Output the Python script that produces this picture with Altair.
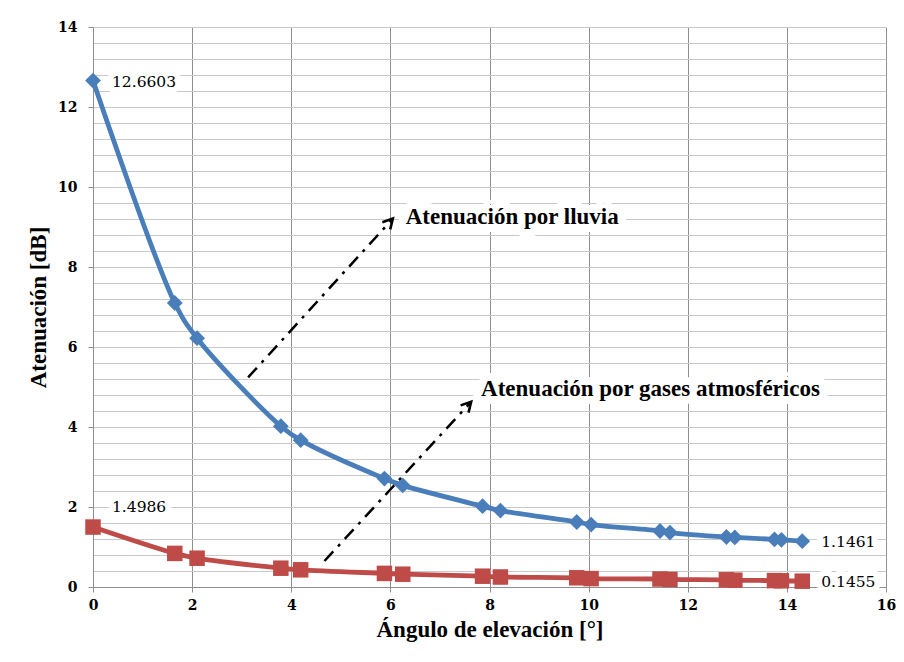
import altair as alt
import pandas as pd

# ---------------- data ----------------
angles = [0, 1.65, 2.10, 3.79, 4.19, 5.88, 6.25, 7.86, 8.22, 9.76, 10.05,
          11.44, 11.64, 12.78, 12.95, 13.75, 13.89, 14.31]
rain = [12.6603, 7.10, 6.22, 4.02, 3.67, 2.71, 2.54, 2.02, 1.91, 1.625, 1.56,
        1.40, 1.36, 1.25, 1.24, 1.19, 1.18, 1.1461]
gas = [1.4986, 0.84, 0.72, 0.47, 0.43, 0.34, 0.32, 0.27, 0.25, 0.23, 0.21,
       0.20, 0.19, 0.18, 0.17, 0.16, 0.155, 0.1455]

series_names = ["Atenuación por lluvia", "Atenuación por gases atmosféricos"]
series_colors = ["#4a7ebb", "#be4b48"]

end_labels = ["12.6603", "1.1461", "0.1455"]
end_x = [0, 14.31, 14.31]
end_y = [12.6603, 1.1461, 0.1455]
top_labels = ["1.4986"]
top_x = [0]
top_y = [1.4986]

arrow_names = ["lluvia", "lluvia", "gases", "gases"]
arrow_x = [3.13, 6.05, 4.67, 7.63]
arrow_y = [5.24, 9.21, 0.65, 4.63]

note_text = ["Atenuación por lluvia", "Atenuación por gases atmosféricos"]
note_x = [6.31, 7.83]
note_y = [9.25, 4.96]

x_ticks = list(range(0, 17, 2))
y_grid = [round(0.4 * i, 1) for i in range(36)]

# ---------------- tables ----------------
df = pd.DataFrame({
    "angle": angles * 2,
    "value": rain + gas,
    "serie": [series_names[0]] * len(angles) + [series_names[1]] * len(angles),
})
df_end = pd.DataFrame({"angle": end_x, "value": end_y, "txt": end_labels})
df_top = pd.DataFrame({"angle": top_x, "value": top_y, "txt": top_labels})
df_arrow = pd.DataFrame({"angle": arrow_x, "value": arrow_y, "arrow": arrow_names,
                         "idx": list(range(len(arrow_x)))})
df_head = df_arrow.iloc[[1, 3]]
df_note = pd.DataFrame({"angle": note_x, "value": note_y, "txt": note_text})

W, H = 793, 560
FONT = "Liberation Serif"
NUMFONT = "DejaVu Serif"
GRID_DARK = "#8f8f8f"
GRID_LIGHT = "#c9c9c9"

xs = alt.Scale(domain=[0, 16], nice=False, zero=False)
ys = alt.Scale(domain=[0, 14], nice=False)
cs = alt.Scale(domain=series_names, range=series_colors)

major = "abs(datum.value/2 - round(datum.value/2)) < 0.001"

x_axis = alt.Axis(values=x_ticks, format="d", grid=True, gridColor=GRID_DARK, gridWidth=1,
                  tickSize=5, tickColor=GRID_DARK, domainColor=GRID_DARK, labelFlush=False,
                  labelFont=NUMFONT, labelFontWeight="bold", labelFontSize=14, labelColor="black",
                  labelPadding=6, title="Ángulo de elevación [°]", titlePadding=6)
y_axis = alt.Axis(values=y_grid, grid=True, gridColor=GRID_LIGHT, gridWidth=1,
                  labelExpr=f"{major} ? format(datum.value, '.0f') : ''", labelOverlap=False,
                  tickOpacity={"condition": {"test": major, "value": 1}, "value": 0},
                  tickSize=5, tickColor=GRID_DARK, domainColor=GRID_DARK, labelFlush=False,
                  labelFont=NUMFONT, labelFontWeight="bold", labelFontSize=14, labelColor="black",
                  labelPadding=11, title="Atenuación [dB]", titlePadding=7)

X = alt.X("angle:Q", scale=xs, axis=x_axis)
Y = alt.Y("value:Q", scale=ys, axis=y_axis)

lines = alt.Chart(df).mark_line(interpolate="catmull-rom", strokeWidth=4.8).encode(
    x=X, y=Y, color=alt.Color("serie:N", scale=cs, legend=None), detail="serie:N")

pts_rain = alt.Chart(df[df.serie == series_names[0]]).mark_point(
    shape="diamond", filled=True, size=250, opacity=1, color=series_colors[0]).encode(x=X, y=Y)
pts_gas = alt.Chart(df[df.serie == series_names[1]]).mark_point(
    shape="square", filled=True, size=240, opacity=1, color=series_colors[1]).encode(x=X, y=Y)

arrows = alt.Chart(df_arrow).mark_line(color="black", strokeWidth=2.5,
                                       strokeDash=[13, 7, 3, 7]).encode(
    x=X, y=Y, detail="arrow:N", order="idx:Q")
heads = alt.Chart(df_head).mark_point(shape="M-0.55,1L0,0L0.55,1", filled=False, size=380,
                                      strokeWidth=2.6, angle=42.5, color="black",
                                      opacity=1).encode(x=X, y=Y)


def label_layers(data, font, size, weight, dx, dy, halo):
    base = alt.Chart(data)
    kw = dict(align="left", baseline="middle", font=font, fontSize=size,
              fontWeight=weight, dx=dx, dy=dy)
    h = base.mark_text(color="white", stroke="white", strokeWidth=halo,
                       strokeJoin="round", **kw).encode(x=X, y=Y, text="txt:N")
    t = base.mark_text(color="black", **kw).encode(x=X, y=Y, text="txt:N")
    return [h, t]


layers = [lines, arrows, heads, pts_rain, pts_gas]
layers += label_layers(df_end, NUMFONT, 15.5, "normal", 19, 1, 12)
layers += label_layers(df_top, NUMFONT, 15.5, "normal", 19, -20, 12)
layers += label_layers(df_note, FONT, 23, "bold", 0, 0, 16)

chart = alt.layer(*layers).properties(
    width=W, height=H,
    autosize=alt.AutoSizeParams(type="none"),
    padding={"left": 85, "top": 19, "right": 10, "bottom": 70},
    background="white",
).configure_view(stroke=None).configure_axis(
    titleFont=FONT, titleFontWeight="bold", titleFontSize=23, titleColor="black",
)

chart.save("out.html", embed_options={"renderer": "svg", "actions": False})
